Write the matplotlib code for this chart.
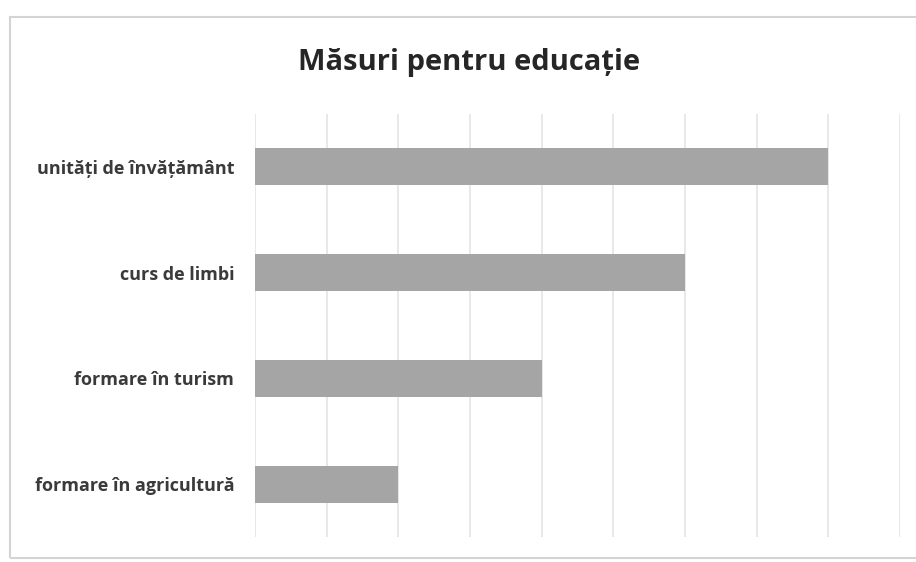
import matplotlib.pyplot as plt
from matplotlib.patches import Rectangle

plt.rcParams['font.family'] = ['Open Sans', 'DejaVu Sans']

# measures, listed bottom to top
categories = ['formare în agricultură', 'formare în turism', 'curs de limbi', 'unități de învățământ']
values = [2, 4, 6, 8]

fig = plt.figure(figsize=(9.16, 5.62), dpi=100)
ax = fig.add_axes([255 / 916, 1 - 537 / 562, 645 / 916, 423 / 562])

ax.barh(range(len(categories)), values, height=0.35, color='#a5a5a5', zorder=2)

ax.set_xlim(0, 9)
ax.set_ylim(-0.5, 3.5)
ax.set_xticks(range(0, 10))
ax.set_xticklabels([])
ax.tick_params(axis='x', length=0)
ax.grid(axis='x', color='#e6e6e6', linewidth=1.3, zorder=0)
ax.set_yticks(range(len(categories)))
ax.set_yticklabels(categories, fontsize=13, fontweight='bold', color='#3a3a3a')
ax.tick_params(axis='y', length=0, pad=15)
for s in ax.spines.values():
    s.set_visible(False)

fig.text(0.512, 0.888, 'Măsuri pentru educație', ha='center', va='center',
         fontsize=21, fontweight='bold', color='#262626')

# outer chart frame
fig.patches.append(Rectangle((10 / 916, 1 - 558 / 562), 920 / 916, 541 / 562,
                             transform=fig.transFigure, fill=False,
                             edgecolor='#d4d4d4', linewidth=1.5))

fig.savefig('out.png', dpi=100)
